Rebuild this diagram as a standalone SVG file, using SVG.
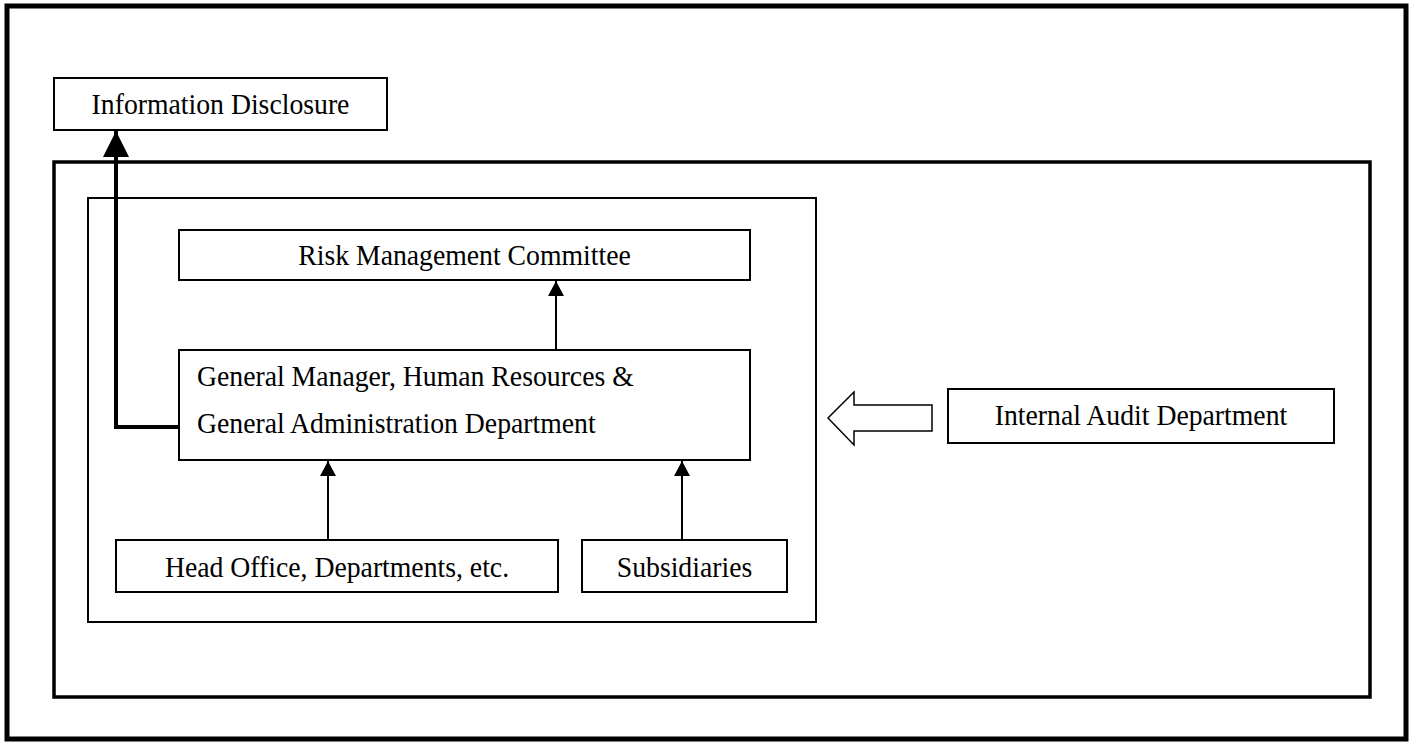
<svg xmlns="http://www.w3.org/2000/svg" width="1415" height="742" viewBox="0 0 1415 742">
<style>
.box{fill:#fff;stroke:#000;stroke-width:2}
.t{font-family:"Liberation Serif","Times New Roman",serif;font-size:29.5px;fill:#000}
.c{text-anchor:middle}
.ln{stroke:#000;stroke-width:2;fill:none}
</style>
<defs>
<marker id="ah" markerWidth="16" markerHeight="16" refX="15" refY="8" orient="auto" markerUnits="userSpaceOnUse">
<path d="M0,0 L15,8 L0,16 Z" fill="#000"/>
</marker>
<marker id="ahb" markerWidth="26" markerHeight="26" refX="26" refY="13" orient="auto" markerUnits="userSpaceOnUse">
<path d="M0,0 L26,13 L0,26 Z" fill="#000"/>
</marker>
</defs>
<rect width="1415" height="742" fill="#fff"/>
<g id="frames">
<rect x="7" y="6" width="1399" height="733" fill="none" stroke="#000" stroke-width="5"/>
<rect x="54" y="162" width="1316" height="535" fill="none" stroke="#000" stroke-width="3.5"/>
<rect x="88" y="198" width="728" height="424" fill="none" stroke="#000" stroke-width="2"/>
</g>
<g id="info-disclosure">
<rect class="box" x="54" y="78" width="333" height="52"/>
<text class="t c" transform="translate(220.5,114) scale(0.94,1)">Information Disclosure</text>
</g>
<g id="risk-committee">
<rect class="box" x="179" y="230" width="571" height="50"/>
<text class="t c" transform="translate(464.5,265) scale(0.94,1)">Risk Management Committee</text>
</g>
<g id="general-manager">
<rect class="box" x="179" y="350" width="571" height="110"/>
<text class="t" transform="translate(197,386) scale(0.94,1)">General Manager, Human Resources &amp;</text>
<text class="t" transform="translate(197,433) scale(0.94,1)">General Administration Department</text>
</g>
<g id="head-office">
<rect class="box" x="116" y="540" width="442" height="52"/>
<text class="t c" transform="translate(337,577) scale(0.94,1)">Head Office, Departments, etc.</text>
</g>
<g id="subsidiaries">
<rect class="box" x="582" y="540" width="205" height="52"/>
<text class="t c" transform="translate(684.5,577) scale(0.94,1)">Subsidiaries</text>
</g>
<g id="internal-audit">
<rect class="box" x="948" y="389" width="386" height="54"/>
<text class="t c" transform="translate(1141,425) scale(0.94,1)">Internal Audit Department</text>
</g>
<g id="connectors">
<line class="ln" x1="556" y1="350" x2="556" y2="281" marker-end="url(#ah)"/>
<line class="ln" x1="328" y1="540" x2="328" y2="461" marker-end="url(#ah)"/>
<line class="ln" x1="682" y1="540" x2="682" y2="461" marker-end="url(#ah)"/>
<polyline points="179,427 116,427 116,131" fill="none" stroke="#000" stroke-width="4" marker-end="url(#ahb)"/>
<path d="M932,405 L854,405 L854,392 L828,418 L854,445 L854,431 L932,431 Z" fill="#fff" stroke="#000" stroke-width="1.5"/>
</g>
</svg>
